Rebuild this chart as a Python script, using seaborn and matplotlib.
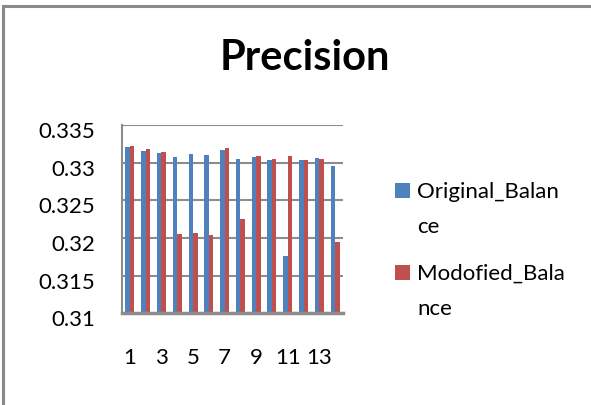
import matplotlib
matplotlib.use("Agg")
import matplotlib.pyplot as plt
from matplotlib.patches import Rectangle
from matplotlib.transforms import ScaledTranslation
import numpy as np
import pandas as pd
import seaborn as sns

# ---- data -------------------------------------------------------------
runs = [str(i) for i in range(1, 15)]
original_balance = [0.3321, 0.3316, 0.3313, 0.3308, 0.3312, 0.3310, 0.3317,
                    0.3305, 0.3307, 0.3303, 0.3176, 0.3303, 0.3306, 0.3295]
modified_balance = [0.3322, 0.3318, 0.3314, 0.3205, 0.3207, 0.3204, 0.3319,
                    0.3225, 0.3309, 0.3305, 0.3309, 0.3303, 0.3305, 0.3195]
series_names = ["Original_Balance", "Modofied_Balance"]
# legend text is wrapped in two lines, as in the narrow legend column
legend_lines = [("Original_Balan", "ce"), ("Modofied_Bala", "nce")]
y_ticks = [0.31, 0.315, 0.32, 0.325, 0.33, 0.335]
y_tick_labels = ["0.31", "0.315", "0.32", "0.325", "0.33", "0.335"]
x_tick_labels = ["1", "3", "5", "7", "9", "11", "13"]
title = "Precision"
colors = ["#4F81BD", "#C0504D"]

df = pd.DataFrame({
    "run": runs * 2,
    "value": original_balance + modified_balance,
    "series": [series_names[0]] * len(runs) + [series_names[1]] * len(runs),
})

# ---- figure -----------------------------------------------------------
W, H = 591, 405
DPI = 100
sns.set_style("white")
plt.rcParams["font.family"] = ["Lato", "DejaVu Sans"]
plt.rcParams["text.color"] = "black"

fig = plt.figure(figsize=(W / DPI, H / DPI), dpi=DPI)
fig.patch.set_facecolor("white")

def fx(px):
    return px / W

def fy(py):
    return 1 - py / H

# chart frame: grey border, left and top edges inside the image
frame = fig.add_axes([0, 0, 1, 1], zorder=-1)
frame.set_xlim(0, W)
frame.set_ylim(H, 0)
frame.axis("off")
frame.add_patch(Rectangle((2.5, 5.5), W + 20, H + 20, facecolor="white",
                          edgecolor="#898989", linewidth=2.2))

ax = fig.add_axes([fx(122), fy(313.3), fx(343) - fx(122), fy(125) - fy(313.3)])

sns.barplot(data=df, x="run", y="value", hue="series", palette=colors,
            width=0.57, saturation=1, ax=ax, legend=False, edgecolor="none")

ax.set_ylim(0.31, 0.335)
ax.set_xlim(-0.5, len(runs) - 0.5)
ax.set_yticks(y_ticks, labels=y_tick_labels)
ax.set_xticks(range(0, len(runs), 2), labels=x_tick_labels)
ax.set_xlabel("")
ax.set_ylabel("")
ax.patch.set_alpha(0)

grid_c = "#8C8C8C"
ax.yaxis.grid(True, color=grid_c, linewidth=1.5)
ax.set_axisbelow(True)
for side in ["top", "right"]:
    ax.spines[side].set_visible(False)
ax.spines["left"].set_color(grid_c)
ax.spines["left"].set_linewidth(1.5)
ax.spines["bottom"].set_color(grid_c)
ax.spines["bottom"].set_linewidth(2.5)

ax.tick_params(axis="both", length=0, labelsize=16, colors="black")
ax.tick_params(axis="y", pad=19)
ax.tick_params(axis="x", pad=25)
shift = ScaledTranslation(0, -5 / DPI, fig.dpi_scale_trans)
for lbl in ax.get_yticklabels():
    lbl.set_transform(lbl.get_transform() + shift)

# title
fig.text(fx(305), fy(70), title, ha="center", va="baseline",
         fontsize=30, fontweight="bold", color="black")

# legend: colour square + label wrapped over two lines
entry_baselines = [198, 280]
line_step = 35
for color, (first, rest), base in zip(colors, legend_lines, entry_baselines):
    frame.add_patch(Rectangle((395, base - 15), 15, 15, facecolor=color,
                              edgecolor="none"))
    fig.text(fx(417), fy(base), first, ha="left", va="baseline",
             fontsize=16, color="black")
    fig.text(fx(417), fy(base + line_step), rest, ha="left", va="baseline",
             fontsize=16, color="black")

fig.savefig("out.png", dpi=DPI)
